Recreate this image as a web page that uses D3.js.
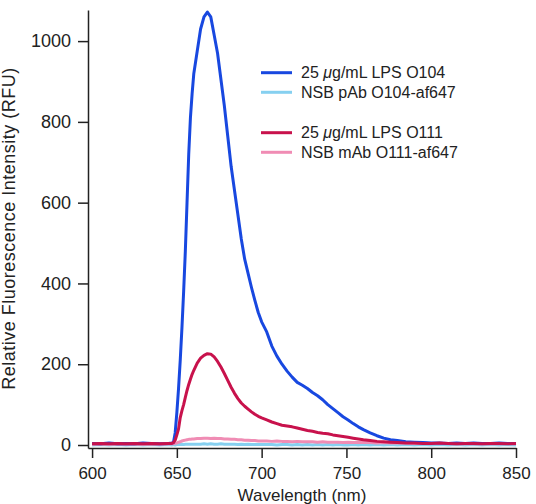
<!DOCTYPE html>
<html>
<head>
<meta charset="utf-8">
<script src="https://cdn.jsdelivr.net/npm/d3@7"></script>
<style>
  html, body { margin: 0; padding: 0; background: #fff; }
  svg { display: block; }
  text { font-family: "Liberation Sans", Arial, Helvetica, sans-serif; fill: #222; }
</style>
</head>
<body>
<svg id="chart" width="536" height="504"></svg>
<script>
const wavelengths = [600,605,610,615,620,625,630,635,640,645,647,648,649,650,651,652,653,654,655,656,657,658,659,660,
  662,664,666,668,670,672,674,676,678,680,682,684,686,688,690,692,694,696,698,700,
  703,706,709,712,715,718,721,724,727,730,733,736,739,742,745,748,751,754,757,760,
  764,768,772,776,780,785,790,795,800,805,810,815,820,825,830,835,840,845,850];

const lpsO104 = [4,3,5,3,4,3,5,4,3,4, 5,6,30,80,140,210,290,380,480,600,720,810,870,920,
  975,1030,1060,1072,1060,1015,970,905,840,765,690,630,570,510,460,425,390,358,328,305,
  280,245,220,200,183,168,155,148,140,130,122,112,100,90,80,70,62,53,45,38,
  30,23,17,13,11,8,7,6,5,5,4,5,4,5,4,4,5,4,4];

const nsbO104 = [0,1,0,1,0,1,0,1,0,1, 0,1,0,1,1,1,2,1,2,2,2,2,2,2,
  2,2,3,2,3,2,2,3,2,2,2,2,1,2,1,2,1,1,1,1,
  1,1,0,1,1,0,1,0,1,0,1,0,1,0,1,0,0,1,0,1,
  0,1,0,1,0,1,0,1,0,1,0,1,0,1,0,1,0,1,0];

const lpsO111 = [3,4,3,4,3,4,3,4,3,4, 4,6,12,25,40,68,85,100,118,135,150,163,175,185,
  203,215,222,226,225,218,207,193,177,160,143,128,115,104,96,89,82,76,71,67,
  62,57,53,49,47,45,42,39,36,34,31,29,28,25,23,21,19,17,15,13,
  11,9,8,7,6,5,5,4,4,5,4,3,4,4,3,4,4,3,4];

const nsbO111 = [2,3,2,3,2,3,2,3,2,3, 3,3,4,5,7,8,10,11,12,13,14,14,15,15,
  16,16,17,17,16,17,16,16,15,15,14,14,13,13,12,12,11,11,10,10,
  10,9,10,9,9,8,9,8,8,8,7,8,7,7,7,6,7,6,6,6,
  6,5,6,5,5,5,4,5,4,4,4,3,4,3,4,3,3,4,3];

const seriesNames = ["25 μg/mL LPS O104", "NSB pAb O104-af647", "25 μg/mL LPS O111", "NSB mAb O111-af647"];
const seriesColors = ["#1848e0", "#86d0f0", "#c8124c", "#f08cb4"];
const xTicks = [600,650,700,750,800,850];
const yTicks = [0,200,400,600,800,1000];

const svg = d3.select("#chart");
const x = d3.scaleLinear().domain([597.6, 850]).range([88, 516]);
const y = d3.scaleLinear().domain([-7.4, 1077]).range([448, 10]);

const series = [lpsO104, nsbO104, lpsO111, nsbO111].map((vals, i) => ({
  name: seriesNames[i], color: seriesColors[i],
  pts: wavelengths.map((w, j) => [w, vals[j]])
}));

const line = d3.line().x(d => x(d[0])).y(d => y(d[1])).curve(d3.curveLinear);
const drawOrder = [1, 3, 0, 2];
svg.append("g").selectAll("path").data(drawOrder.map(i => series[i])).join("path")
  .attr("d", d => line(d.pts))
  .attr("fill", "none")
  .attr("stroke", d => d.color)
  .attr("stroke-width", 3)
  .attr("stroke-linejoin", "round");

// axes
const fmt = d3.format("d");
const xAxis = svg.append("g").attr("transform", "translate(0,448)")
  .call(d3.axisBottom(x).tickValues(xTicks).tickFormat(fmt).tickSize(10).tickSizeOuter(0).tickPadding(8.5));
const yAxis = svg.append("g").attr("transform", "translate(88,0)")
  .call(d3.axisLeft(y).tickValues(yTicks).tickFormat(fmt).tickSize(10).tickSizeOuter(0).tickPadding(7));
xAxis.selectAll("text").attr("font-size", 17);
yAxis.selectAll("text").attr("font-size", 18);
[xAxis, yAxis].forEach(g => {
  g.selectAll("path, line").attr("stroke", "#222").attr("stroke-width", 1.5);
  g.selectAll("text").attr("font-family", "Liberation Sans, Arial, sans-serif").attr("fill", "#222");
});

svg.append("text").attr("x", 302).attr("y", 501).attr("text-anchor", "middle")
  .attr("font-size", 17).text("Wavelength (nm)");
svg.append("text").attr("transform", "translate(15,228.5) rotate(-90)").attr("text-anchor", "middle")
  .attr("font-size", 18).attr("letter-spacing", 0.5).text("Relative Fluorescence Intensity (RFU)");

// legend
const legendY = [72.7, 92.3, 132.7, 152.3];
const lg = svg.append("g");
series.forEach((s, i) => {
  lg.append("line").attr("x1", 261).attr("x2", 292).attr("y1", legendY[i]).attr("y2", legendY[i])
    .attr("stroke", s.color).attr("stroke-width", 3);
  const t = lg.append("text").attr("x", 301).attr("y", legendY[i]).attr("dy", "0.35em").attr("font-size", 16);
  if (s.name.includes("μ")) {
    const parts = s.name.split("μ");
    t.append("tspan").text(parts[0]);
    t.append("tspan").attr("font-style", "italic").text("μ");
    t.append("tspan").text(parts[1]);
  } else {
    t.text(s.name);
  }
});
</script>
</body>
</html>
